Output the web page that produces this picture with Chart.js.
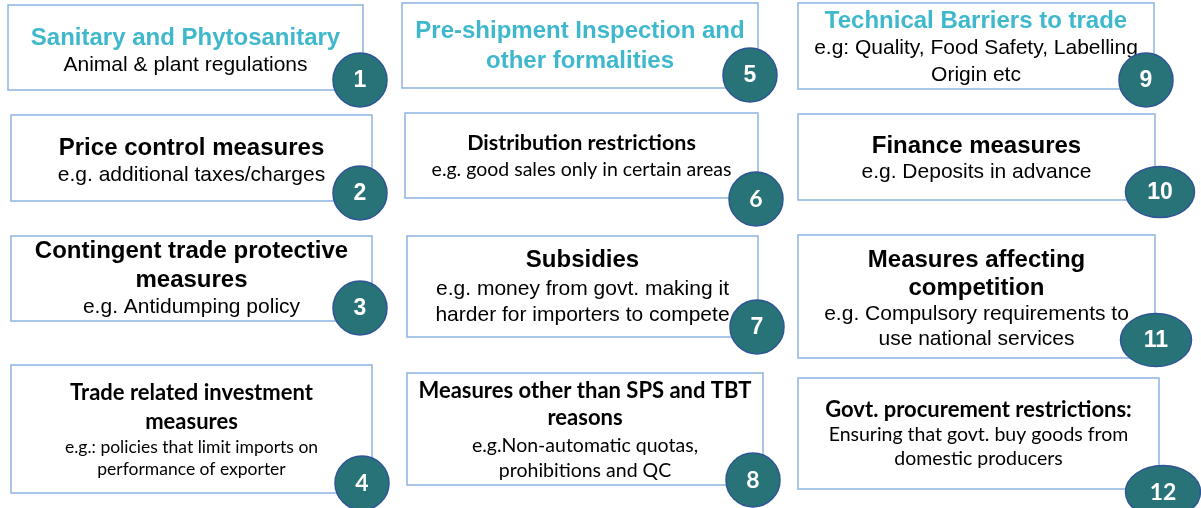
<!DOCTYPE html>
<html>
<head>
<meta charset="utf-8">
<script src="https://cdn.jsdelivr.net/npm/chart.js@4"></script>
<style>
  html, body { margin: 0; padding: 0; background: #fff; }
  canvas { display: block; }
</style>
</head>
<body>
<canvas id="measuresChart" width="1201" height="508"></canvas>
<script>
// ========================================
// Data: non-tariff measure categories
// ========================================

const measureNumbers = ['1', '2', '3', '4', '5', '6', '7', '8', '9', '10', '11', '12'];

const measureTitles = [
    ['Sanitary and Phytosanitary'],
    ['Price control measures'],
    ['Contingent trade protective', 'measures'],
    ['Trade related investment', 'measures'],
    ['Pre-shipment Inspection and', 'other formalities'],
    ['Distribution restrictions'],
    ['Subsidies'],
    ['Measures other than SPS and TBT', 'reasons'],
    ['Technical Barriers to trade'],
    ['Finance measures'],
    ['Measures affecting', 'competition'],
    ['Govt. procurement restrictions:']
];

const measureExamples = [
    ['Animal & plant regulations'],
    ['e.g. additional taxes/charges'],
    ['e.g. Antidumping policy'],
    ['e.g.: policies that limit imports on', 'performance of exporter'],
    [],
    ['e.g. good sales only in certain areas'],
    ['e.g. money from govt. making it', 'harder for importers to compete'],
    ['e.g.Non-automatic quotas,', 'prohibitions and QC'],
    ['e.g: Quality, Food Safety, Labelling', 'Origin etc'],
    ['e.g. Deposits in advance'],
    ['e.g. Compulsory requirements to', 'use national services'],
    ['Ensuring that govt. buy goods from', 'domestic producers']
];

// technical measures (SPS, PSI, TBT) are highlighted
const technicalMeasures = ['1', '5', '9'];

// ========================================
// Layout (canvas units)
// ========================================

const ARIAL = '"Liberation Sans", Arial, sans-serif';
const CALIBRI = 'Lato, "Noto Sans", sans-serif';

const boxLayout = [
    { x: 8,   y: 5,   w: 355, h: 85,  font: ARIAL,   ts: 24, es: 21,   base: [45, 71],             badge: [-3, -10] },
    { x: 11,  y: 115, w: 361, h: 86,  font: ARIAL,   ts: 24, es: 21,   base: [155, 181],           badge: [-12, -8] },
    { x: 11,  y: 236, w: 361, h: 85,  font: ARIAL,   ts: 24, es: 21,   base: [258, 287, 313],      badge: [-12, -13] },
    { x: 11,  y: 365, w: 361, h: 128, font: CALIBRI, ts: 22, es: 17.5, base: [400, 429, 453, 475], badge: [-10, -10] },
    { x: 402, y: 3,   w: 356, h: 85,  font: ARIAL,   ts: 24, es: 21,   base: [38, 68],             badge: [-8, -13] },
    { x: 405, y: 113, w: 353, h: 85,  font: CALIBRI, ts: 21.5, es: 19.5, base: [150, 176],         badge: [-2, 1] },
    { x: 407, y: 236, w: 351, h: 101, font: ARIAL,   ts: 24, es: 21,   base: [267, 295, 321],      badge: [-1, -10] },
    { x: 407, y: 373, w: 356, h: 112, font: CALIBRI, ts: 22, es: 19.5, base: [398, 425, 452, 477], badge: [-10, -5] },
    { x: 798, y: 3,   w: 356, h: 86,  font: ARIAL,   ts: 24, es: 21,   base: [28, 54, 81],         badge: [-8, -9] },
    { x: 798, y: 114, w: 357, h: 86,  font: ARIAL,   ts: 24, es: 21,   base: [153, 178],           badge: [5, -8] },
    { x: 798, y: 235, w: 357, h: 123, font: ARIAL,   ts: 24, es: 21,   base: [267, 295, 320, 345], badge: [1, -18] },
    { x: 798, y: 378, w: 361, h: 111, font: CALIBRI, ts: 22, es: 19.5, base: [417, 441, 465],      badge: [4, 3] }
];

const BADGE_FILL = '#277377';
const BADGE_EDGE = '#2f5597';

// wide badges (two digits) are drawn as ellipses
function ellipseBadge(rx, ry) {
    const c = document.createElement('canvas');
    c.width = rx * 2 + 2;
    c.height = ry * 2 + 2;
    const g = c.getContext('2d');
    g.beginPath();
    g.ellipse(c.width / 2, c.height / 2, rx - 0.5, ry - 0.5, 0, 0, Math.PI * 2);
    g.fillStyle = BADGE_FILL;
    g.fill();
    g.lineWidth = 1.5;
    g.strokeStyle = BADGE_EDGE;
    g.stroke();
    return c;
}
const wideBadges = { '10': ellipseBadge(35, 26), '11': ellipseBadge(36, 27), '12': ellipseBadge(38, 27) };

// ========================================
// Plugins: boxes + text, badge numbers
// ========================================

const boxPlugin = {
    id: 'measureBoxes',
    beforeDatasetsDraw(chart) {
        const { ctx, scales: { x, y } } = chart;
        boxLayout.forEach((b, i) => {
            const left = x.getPixelForValue(b.x);
            const right = x.getPixelForValue(b.x + b.w);
            const top = y.getPixelForValue(b.y);
            const bottom = y.getPixelForValue(b.y + b.h);
            ctx.save();
            ctx.fillStyle = '#ffffff';
            ctx.fillRect(left, top, right - left, bottom - top);
            ctx.strokeStyle = '#8db3e2';
            ctx.lineWidth = 1.5;
            ctx.strokeRect(left, top, right - left, bottom - top);

            const cx = (left + right) / 2;
            ctx.textAlign = 'center';
            ctx.textBaseline = 'alphabetic';
            let k = 0;
            ctx.font = `bold ${b.ts}px ${b.font}`;
            ctx.fillStyle = technicalMeasures.includes(measureNumbers[i]) ? '#3fb8cd' : '#000000';
            measureTitles[i].forEach(line => {
                ctx.fillText(line, cx, y.getPixelForValue(b.base[k++]), b.w - 8);
            });
            ctx.font = `${b.es}px ${b.font}`;
            ctx.fillStyle = '#000000';
            measureExamples[i].forEach(line => {
                ctx.fillText(line, cx, y.getPixelForValue(b.base[k++]), b.w - 8);
            });
            ctx.restore();
        });
    }
};

const badgeLabelPlugin = {
    id: 'badgeLabels',
    afterDatasetsDraw(chart) {
        const { ctx } = chart;
        const meta = chart.getDatasetMeta(0);
        ctx.save();
        ctx.fillStyle = '#ffffff';
        ctx.textAlign = 'center';
        ctx.textBaseline = 'middle';
        meta.data.forEach((pt, i) => {
            ctx.font = `bold 23px ${boxLayout[i].font}`;
            ctx.fillText(measureNumbers[i], pt.x, pt.y + 1);
        });
        ctx.restore();
    }
};

try {
    new Chart(document.getElementById('measuresChart').getContext('2d'), {
        type: 'bubble',
        data: {
            labels: measureNumbers,
            datasets: [{
                label: 'Measures',
                data: boxLayout.map(b => ({ x: b.x + b.w + b.badge[0], y: b.y + b.h + b.badge[1], r: 27 })),
                backgroundColor: BADGE_FILL,
                borderColor: BADGE_EDGE,
                borderWidth: 1.5,
                pointStyle: ctx => wideBadges[measureNumbers[ctx.dataIndex]] || 'circle',
                clip: false
            }]
        },
        options: {
            responsive: false,
            animation: false,
            events: [],
            layout: { padding: 0, autoPadding: false },
            plugins: { legend: { display: false }, tooltip: { enabled: false } },
            scales: {
                x: { type: 'linear', min: 0, max: 1201, display: false },
                y: { type: 'linear', min: 0, max: 508, reverse: true, display: false }
            }
        },
        plugins: [boxPlugin, badgeLabelPlugin]
    });
} catch (err) {
    console.error(err);
}
</script>
</body>
</html>
